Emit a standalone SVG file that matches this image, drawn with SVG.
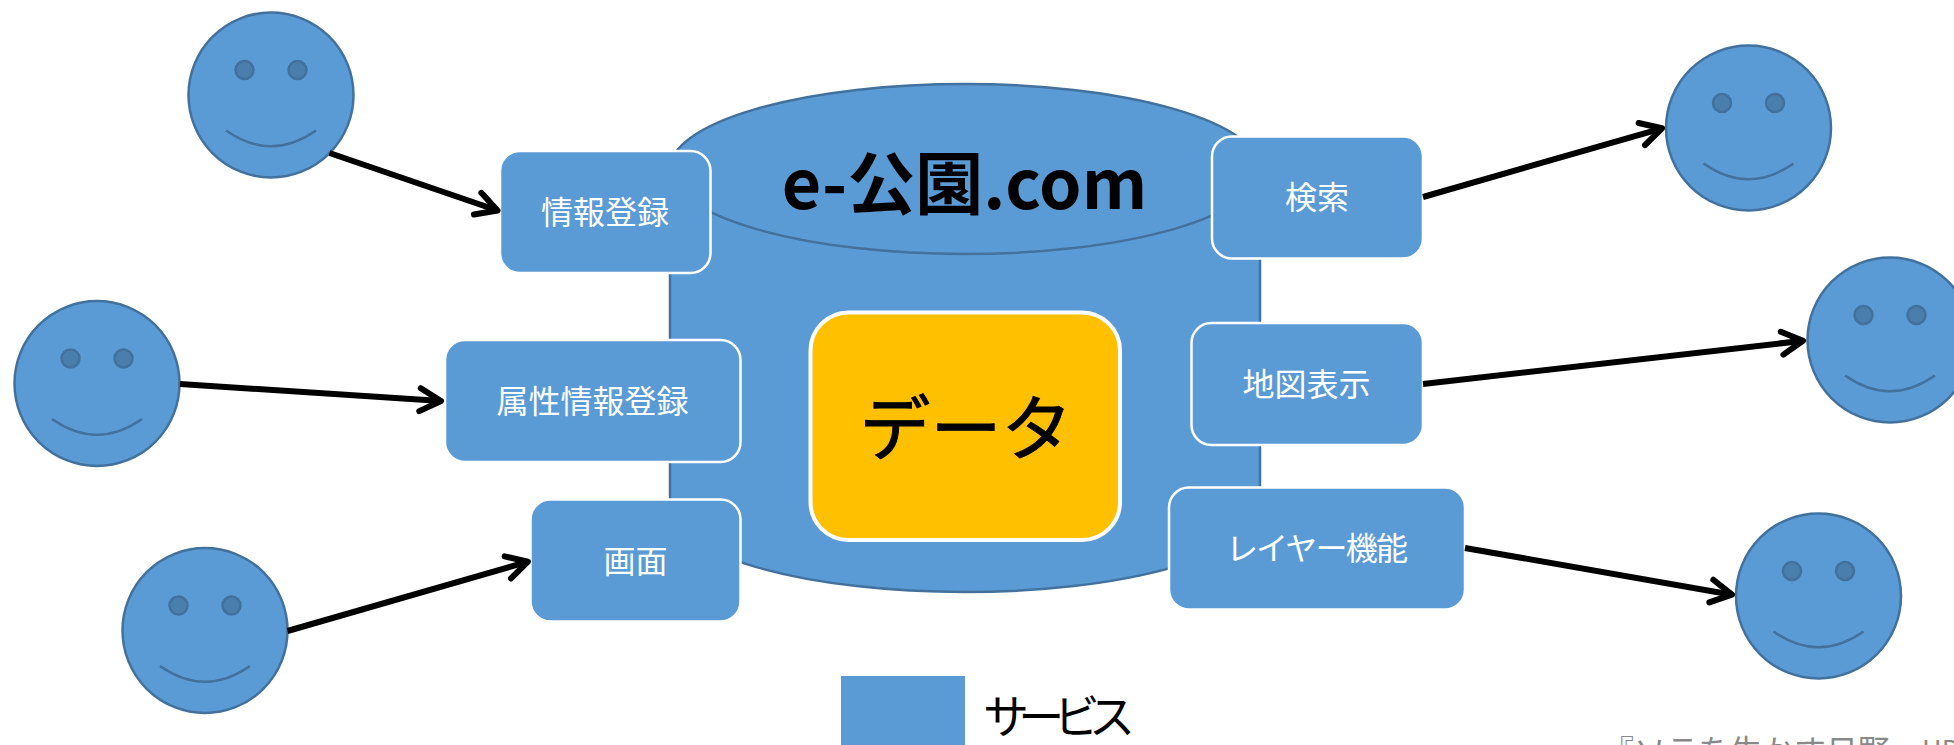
<svg xmlns="http://www.w3.org/2000/svg" width="1954" height="745" viewBox="0 0 1954 745">
  <style>
    .svc{fill:#5B9BD5;stroke:#fff;stroke-width:2.5}
    .lbl{font-family:"Noto Sans CJK JP","Liberation Sans",sans-serif;font-size:32px;fill:#fff;text-anchor:middle}
    .big{font-family:"Noto Sans CJK JP","Liberation Sans",sans-serif;fill:#000;text-anchor:middle}
    .cyl{fill:#5B9BD5;stroke:#41719C;stroke-width:2.5}
    .face{fill:#5B9BD5;stroke:#41719C;stroke-width:2.5}
    .eye{fill:#4A7EAC;stroke:#41719C;stroke-width:2.5}
    .smile{fill:none;stroke:#41719C;stroke-width:2.5}
    .arrow{fill:none;stroke:#000;stroke-width:6;marker-end:url(#head)}
  </style>
  <defs>
    <marker id="head" markerUnits="userSpaceOnUse" markerWidth="40" markerHeight="40" refX="30" refY="20" orient="auto" viewBox="0 0 40 40">
      <path d="M9,8.500L30,20L9,31.500" fill="none" stroke="#000" stroke-width="6" stroke-linecap="round" stroke-linejoin="round"/>
    </marker>
    <g id="smiley">
      <circle class="face" r="82.500"/>
      <circle class="eye" cx="-26.500" cy="-25" r="9"/>
      <circle class="eye" cx="26.500" cy="-25" r="9"/>
      <path class="smile" d="M-45,35.500Q0,67 45,35.500"/>
    </g>
  </defs>
  <rect width="1954" height="745" fill="#fff"/>

  <g id="database">
    <path class="cyl" d="M670,169A295,85 0 0 1 1260,169V507A295,85 0 0 1 670,507Z"/>
    <path class="cyl" d="M670,169A295,85 0 0 0 1260,169"/>
    <text class="big" x="964.500" y="209" font-size="68" font-weight="700">e-公園.com</text>
  </g>
  <g id="data">
    <rect x="810.500" y="312.500" width="309.500" height="227.500" rx="38" fill="#FFC000" stroke="#fff" stroke-width="4"/>
    <text class="big" x="966" y="454" font-size="71" stroke="#000" stroke-width="0.900">データ</text>
  </g>

  <g id="svc-joho"><rect class="svc" x="500" y="151" width="210.500" height="122" rx="20"/><text class="lbl" x="605" y="224">情報登録</text></g>
  <g id="svc-zokusei"><rect class="svc" x="445" y="340" width="295.500" height="122" rx="20"/><text class="lbl" x="592.500" y="413">属性情報登録</text></g>
  <g id="svc-gamen"><rect class="svc" x="530.500" y="499.500" width="210" height="122" rx="20"/><text class="lbl" x="635.500" y="573">画面</text></g>
  <g id="svc-kensaku"><rect class="svc" x="1212" y="136.500" width="211" height="122" rx="20"/><text class="lbl" x="1317" y="209">検索</text></g>
  <g id="svc-chizu"><rect class="svc" x="1191.500" y="323" width="231.500" height="122" rx="20"/><text class="lbl" x="1306.500" y="396">地図表示</text></g>
  <g id="svc-layer"><rect class="svc" x="1169" y="487.500" width="296" height="122" rx="20"/><text class="lbl" x="1316" y="560" letter-spacing="-1.800">レイヤー機能</text></g>

  <g id="user-1"><use href="#smiley" x="271" y="95"/></g>
  <g id="user-2"><use href="#smiley" x="97" y="383.500"/></g>
  <g id="user-3"><use href="#smiley" x="205" y="630.500"/></g>
  <g id="user-4"><use href="#smiley" x="1748.500" y="128"/></g>
  <g id="user-5"><use href="#smiley" x="1890" y="340"/></g>
  <g id="user-6"><use href="#smiley" x="1818.500" y="596"/></g>

  <g id="connectors">
    <path class="arrow" d="M329.500,153L497.500,210.500"/>
    <path class="arrow" d="M180,384L441,401"/>
    <path class="arrow" d="M287.500,631L528,561.600"/>
    <path class="arrow" d="M1423,197L1662,128.300"/>
    <path class="arrow" d="M1423,384L1803,340.800"/>
    <path class="arrow" d="M1465,548L1732,594.700"/>
  </g>

  <g id="legend">
    <rect x="841" y="676" width="124" height="70" fill="#5B9BD5"/>
    <text x="983" y="733" font-family="Noto Sans CJK JP, Liberation Sans, sans-serif" font-size="46" fill="#000" textLength="152">サービス</text>
  </g>
  <text x="1602" y="763" font-family="Noto Sans CJK JP, Liberation Sans, sans-serif" font-size="32" fill="#898989">『ソラを生かす日野』<tspan font-size="27" y="760">HDC3</tspan></text>
</svg>
